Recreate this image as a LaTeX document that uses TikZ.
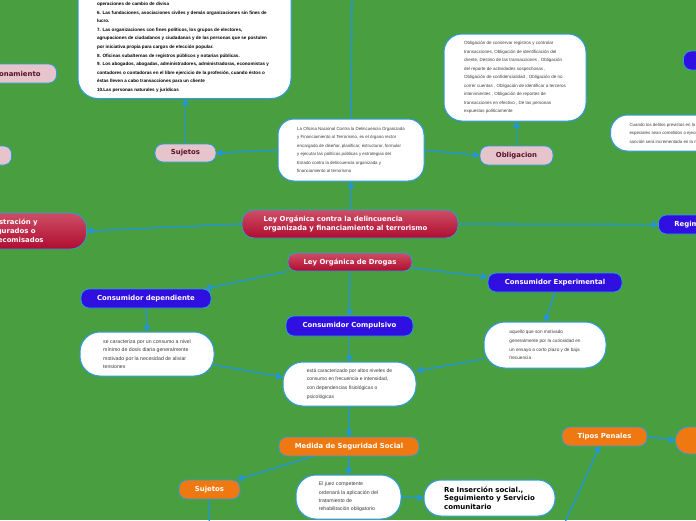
\documentclass[tikz,border=0pt]{standalone}
\usepackage{fontspec}
\setmainfont{Liberation Sans}
\newfontfamily\lblfont{DejaVu Sans}
\usetikzlibrary{arrows.meta}
\definecolor{bggreen}{RGB}{73,159,64}
\definecolor{linkblue}{RGB}{33,150,221}
\definecolor{nodeborder}{RGB}{45,155,225}
\definecolor{pinkf}{RGB}{230,196,203}
\definecolor{maroontxt}{RGB}{88,18,38}
\definecolor{crimT}{RGB}{205,78,102}
\definecolor{crimB}{RGB}{176,12,48}
\definecolor{bluef}{RGB}{48,16,224}
\definecolor{orangef}{RGB}{240,120,16}
\definecolor{txtgray}{RGB}{60,60,60}
\begin{document}
\begin{tikzpicture}[x=1pt,y=-1pt,
  link/.style={draw=linkblue, line width=1.3pt, -{Triangle[length=6pt,width=7pt]}},
  plainlink/.style={draw=linkblue, line width=1.3pt},
  pill/.style={draw=nodeborder, line width=0.8pt, rounded corners=8pt, inner sep=0pt,
    font=\lblfont\bfseries\fontsize{6.9}{8.5}\selectfont, text=white},
  pinkpill/.style={pill, fill=pinkf, text=maroontxt},
  bluepill/.style={pill, fill=bluef},
  orpill/.style={pill, fill=orangef},
  redpill/.style={pill, top color=crimT, bottom color=crimB},
  wbox/.style={draw=nodeborder, line width=1pt, fill=white, rounded corners=18pt, inner sep=0pt,
    align=left, text=txtgray, font=\fontsize{4.2}{8.5}\selectfont}
]
\fill[bggreen] (0,0) rectangle (696,520);
\useasboundingbox (0,0) rectangle (696,520);

% upper branch
\node[wbox, anchor=south, rounded corners=20pt, inner xsep=19pt, inner ysep=6pt, text=black,
  font=\bfseries\fontsize{4.6}{8.6}\selectfont] (topbox) at (184.5,99)
  {\parbox[b][124pt][b]{175pt}{\raggedright operaciones de cambio de divisa\\
  6. Las fundaciones, asociaciones civiles y demás organizaciones sin fines de\\
  lucro.\\
  7. Las organizaciones con fines políticos, los grupos de electores,\\
  agrupaciones de ciudadanos y ciudadanas y de las personas que se postulen\\
  por iniciativa propia para cargos de elección popular.\\
  8. Oficinas subalternas de registros públicos y notarías públicas.\\
  9. Los abogados, abogadas, administradores, administradoras, economistas y\\
  contadores o contadoras en el libre ejercicio de la profesión, cuando éstos o\\
  éstas lleven a cabo transacciones para un cliente\\
  10.Las personas naturales y jurídicas}};

\node[wbox, minimum width=146pt, minimum height=62pt, rounded corners=16pt,
  font=\fontsize{4.4}{8.4}\selectfont] (ofi) at (351,150)
  {La Oficina Nacional Contra la Delincuencia Organizada\\
   y Financiamiento al Terrorismo, es el órgano rector\\
   encargado de diseñar, planificar, estructurar, formular\\
   y ejecutar las políticas públicas y estrategias del\\
   Estado contra la delincuencia organizada y\\
   financiamiento al terrorismo};

\node[wbox, minimum width=142pt, minimum height=87pt, font=\fontsize{4.5}{8.5}\selectfont] (obltxt) at (515,77.5)
  {Obligación de conservar registros y controlar\\
   transacciones, Obligación de identificación del\\
   cliente, Destino de las transacciones , Obligación\\
   del reporte de actividades sospechosas ,\\
   Obligación de confidencialidad , Obligación de no\\
   correr cuentas , Obligación de identificar a terceros\\
   intervinientes , Obligación de reportes de\\
   transacciones en efectivo , De las personas\\
   expuestas políticamente};

\node[wbox, anchor=west, minimum height=36pt, inner xsep=19pt, rounded corners=17pt,
  font=\fontsize{4.4}{8.5}\selectfont] (rbox) at (610,133)
  {Cuando los delitos previstos en la ley\\
   especiales sean cometidos o ejecutados\\
   sanción será incrementada en la mitad};

\node[pinkpill, minimum width=61pt, minimum height=18pt] (sujP) at (185.5,153) {Sujetos};
\node[pinkpill, minimum width=73pt, minimum height=19pt] (oblig) at (516.5,155.5) {Obligacion};
\node[pinkpill, anchor=east, minimum height=19pt, inner xsep=16pt] (func) at (57,73.5) {Funcionamiento};
\node[pinkpill, anchor=east, minimum width=70pt, minimum height=19pt] (pinkL) at (12,155.5) {};
\node[bluepill, anchor=west, minimum width=60pt, minimum height=19pt] (tright) at (683,60.5) {};

% main row
\node[redpill, minimum width=216pt, minimum height=28pt, rounded corners=12pt, align=left,
  font=\lblfont\bfseries\fontsize{6.9}{9.4}\selectfont] (main) at (350,224)
  {Ley Orgánica contra la delincuencia\\organizada y financiamiento al terrorismo\rule{9pt}{0pt}};
\node[redpill, anchor=east, minimum height=36pt, inner xsep=43pt, rounded corners=16pt, align=right,
  font=\lblfont\bfseries\fontsize{6.9}{9}\selectfont] (admin) at (87,231)
  {Administración y\rule{6pt}{0pt}\\bienes asegurados o\rule{8pt}{0pt}\\decomisados};
\node[bluepill, anchor=west, minimum height=19pt, inner xsep=16pt] (regim) at (658,224.5) {Regimen};

% drogas branch
\node[redpill, minimum width=124pt, minimum height=18pt] (drogas) at (350,262) {Ley Orgánica de Drogas};
\node[bluepill, minimum width=130pt, minimum height=19pt] (cdep) at (146,298.5) {Consumidor dependiente};
\node[bluepill, minimum width=127pt, minimum height=20pt] (ccomp) at (349.5,326) {Consumidor Compulsivo};
\node[bluepill, minimum width=134pt, minimum height=19pt] (cexp) at (555,282.5) {Consumidor Experimental};

\node[wbox, minimum width=134pt, minimum height=44pt, rounded corners=20pt,
  font=\fontsize{5.2}{8.3}\selectfont] (depbox) at (147,354)
  {se caracteriza por un consumo a nivel\\
   mínimo de dosis diaria generalmente\\
   motivado por la necesidad de aliviar\\
   tensiones};
\node[wbox, minimum width=133pt, minimum height=44pt, rounded corners=20pt,
  font=\fontsize{5.0}{8.7}\selectfont] (compbox) at (349.5,384)
  {está caracterizado por altos niveles de\\
   consumo en frecuencia e intensidad,\\
   con dependencias fisiológicas o\\
   psicológicas};
\node[wbox, minimum width=122pt, minimum height=46pt, rounded corners=21pt,
  font=\fontsize{4.7}{8.7}\selectfont] (expbox) at (545,345)
  {aquello que son motivado\\
   generalmente por la curiosidad en\\
   un ensayo a corto plazo y de baja\\
   frecuencia};

\node[orpill, minimum width=140pt, minimum height=19pt] (medida) at (349,446.5) {Medida de Seguridad Social};
\node[orpill, minimum width=61pt, minimum height=19pt] (sujO) at (209.5,489.5) {Sujetos};
\node[orpill, minimum width=85pt, minimum height=19pt] (tipos) at (604.5,436.5) {Tipos Penales};
\node[orpill, anchor=west, minimum width=60pt, minimum height=27pt, rounded corners=13pt] (orR) at (675,440.5) {};

\node[wbox, minimum width=105pt, minimum height=44pt, rounded corners=20pt,
  font=\fontsize{5.2}{8.4}\selectfont] (juez) at (348.5,497)
  {El juez competente\\
   ordenará la aplicación del\\
   tratamiento de\\
   rehabilitación obligatorio};
\node[wbox, minimum width=131pt, minimum height=36pt, rounded corners=17pt, text=black,
  font=\lblfont\bfseries\fontsize{7}{8.5}\selectfont] (reins) at (489.5,498)
  {Re Inserción social.,\\Seguimiento y Servicio\\comunitario};

\coordinate (topoff) at (352,-10);
\coordinate (sujOff) at (209,530);
\coordinate (tipOff) at (561.5,530);

% connectors
\draw[link] (sujP.north) -- (sujP.north |- topbox.south);
\draw[link] (ofi.west) -- (sujP.east);
\draw[link] (ofi.east) -- (oblig.west);
\draw[link] (oblig.north) -- (oblig.north |- obltxt.south);
\draw[plainlink] (ofi.north) -- (topoff);
\draw[link] (main.north) -- (ofi.south);
\draw[link] (main.west) -- (admin.east);
\draw[link] (main.east) -- (regim.west);
\draw[link] (drogas.south west) -- ([xshift=-6pt]cdep.north east);
\draw[link] (drogas.south) -- (ccomp.north);
\draw[link] ([yshift=-6pt]drogas.east) -- ([yshift=5.5pt]cexp.west);
\draw[link] (cdep.south) -- (depbox.north);
\draw[link] ([yshift=-11pt]depbox.east) -- ([yshift=7pt]compbox.west);
\draw[link] (ccomp.south) -- (compbox.north);
\draw[link] (cexp.south) -- (expbox.north);
\draw[link] ([yshift=-14pt]expbox.west) -- ([yshift=13pt]compbox.east);
\draw[link] (compbox.south) -- (medida.north);
\draw[link] ([xshift=-36pt]medida.south) -- ([xshift=-3pt]sujO.north east);
\draw[link] (medida.south) -- (juez.north);
\draw[link] (juez.east) -- (reins.west);
\draw[plainlink] (sujO.south) -- (sujOff);
\draw[link] (tipOff) -- ([xshift=-5pt]tipos.south);
\draw[link] (tipos.east) -- (orR.west);
\end{tikzpicture}
\end{document}
